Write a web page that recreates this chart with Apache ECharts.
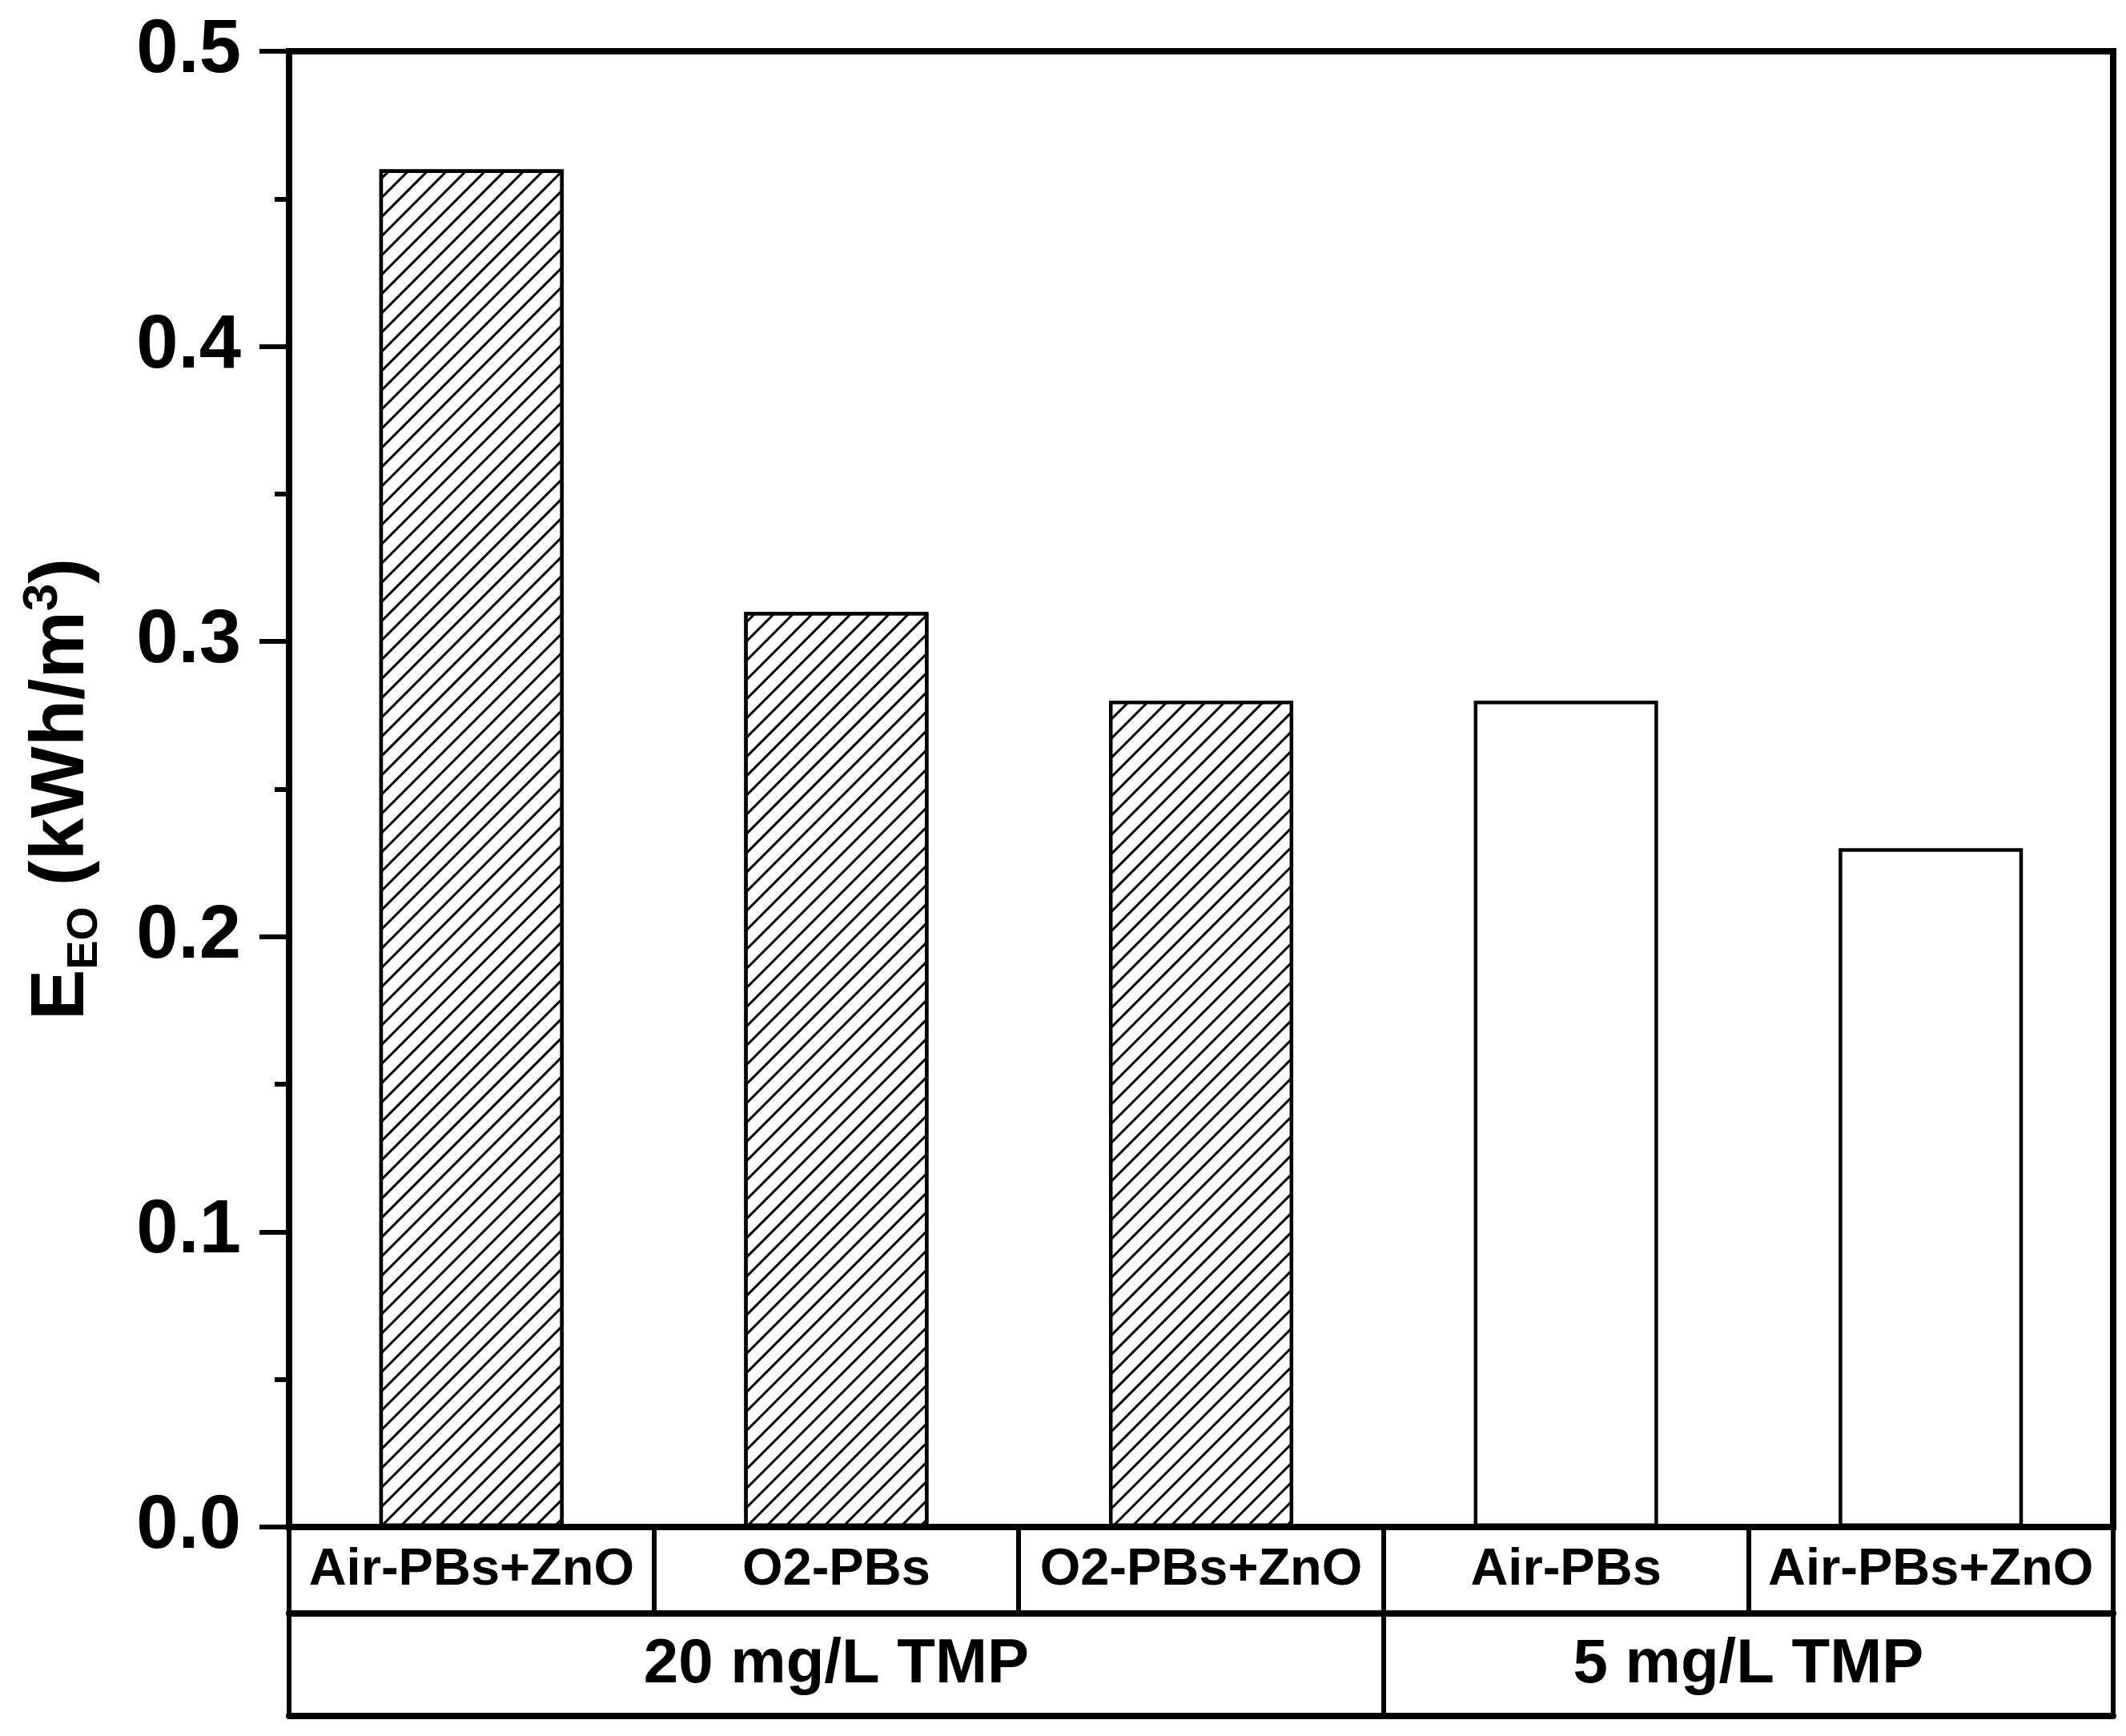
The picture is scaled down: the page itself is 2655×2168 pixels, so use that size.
<!DOCTYPE html>
<html>
<head>
<meta charset="utf-8">
<script src="https://cdn.jsdelivr.net/npm/echarts@6/dist/echarts.min.js"></script>
<style>
html,body{margin:0;padding:0;background:#fff;}
#chart{width:2655px;height:2168px;}
</style>
</head>
<body>
<div id="chart"></div>
<script>
// ---- data ----
const categories = ['Air-PBs+ZnO', 'O2-PBs', 'O2-PBs+ZnO', 'Air-PBs', 'Air-PBs+ZnO'];
const values = [0.46, 0.31, 0.28, 0.28, 0.23];
const groupLabels = ['20 mg/L TMP', '5 mg/L TMP'];
const groupSizes = [3, 2];
const yTicks = [0.0, 0.1, 0.2, 0.3, 0.4, 0.5];

// ---- derived ----
const bounds = [0];
groupSizes.forEach(s => bounds.push(bounds[bounds.length - 1] + s));
const centers = groupSizes.map((s, i) => bounds[i] + s / 2);
const groupOf = [];
groupSizes.forEach((s, gi) => { for (let k = 0; k < s; k++) groupOf.push(gi); });

const FONT = '"Liberation Sans", Arial, sans-serif';
const hatch = {
  symbol: 'rect', symbolSize: 1, color: '#000', backgroundColor: '#fff',
  dashArrayX: [1, 0], dashArrayY: [3, 14], rotation: -Math.PI / 4
};

const barData = values.map((v, i) => ({
  value: v,
  itemStyle: groupOf[i] === 0
    ? { color: '#fff', borderColor: '#000', borderWidth: 4.5, decal: hatch }
    : { color: '#fff', borderColor: '#000', borderWidth: 4.5 }
}));

const chart = echarts.init(document.getElementById('chart'), null, { renderer: 'canvas' });
chart.setOption({
  animation: false,
  backgroundColor: '#fff',
  grid: { left: 361, right: 16, top: 64, bottom: 261, show: true, borderColor: '#000', borderWidth: 8, backgroundColor: 'transparent' },
  xAxis: [
    {
      type: 'category', data: categories, position: 'bottom',
      axisLine: { lineStyle: { color: '#000', width: 8 } },
      axisTick: { show: true, interval: 0, length: 108, lineStyle: { color: '#000', width: 6 } },
      axisLabel: { interval: 0, margin: 22, color: '#000', fontFamily: FONT, fontWeight: 'bold', fontSize: 65 },
      splitLine: { show: false }
    },
    {
      type: 'value', min: 0, max: bounds[bounds.length - 1], position: 'bottom', offset: 108,
      axisLine: { show: true, onZero: false, lineStyle: { color: '#000', width: 8 } },
      axisTick: { show: true, customValues: bounds, length: 128, lineStyle: { color: '#000', width: 6 } },
      axisLabel: {
        customValues: centers, margin: 25, color: '#000', fontFamily: FONT, fontWeight: 'bold', fontSize: 78,
        formatter: v => { const i = centers.findIndex(c => Math.abs(c - v) < 1e-6); return i >= 0 ? groupLabels[i] : ''; }
      },
      splitLine: { show: false }
    },
    {
      type: 'value', min: 0, max: bounds[bounds.length - 1], position: 'bottom', offset: 236,
      axisLine: { show: true, onZero: false, lineStyle: { color: '#000', width: 8 } },
      axisTick: { show: false }, axisLabel: { show: false }, splitLine: { show: false }
    }
  ],
  yAxis: {
    type: 'value', min: yTicks[0], max: yTicks[yTicks.length - 1], interval: 0.1,
    axisLine: { show: true, lineStyle: { color: '#000', width: 8 } },
    axisTick: { show: true, length: 37, lineStyle: { color: '#000', width: 6 } },
    minorTick: { show: true, splitNumber: 2, length: 18, lineStyle: { color: '#000', width: 6 } },
    splitLine: { show: false },
    axisLabel: { margin: 60, color: '#000', fontFamily: FONT, fontWeight: 'bold', fontSize: 94, formatter: v => v.toFixed(1) },
    name: '{m|E}{sub|EO}{m| (kWh/m}{sup|3}{m|)}',
    nameLocation: 'middle', nameGap: 228,
    nameTextStyle: {
      color: '#000', fontFamily: FONT, fontWeight: 'bold', fontSize: 95,
      rich: {
        m: { fontFamily: FONT, fontWeight: 'bold', fontSize: 95, lineHeight: 110, color: '#000' },
        sub: { fontFamily: FONT, fontWeight: 'bold', fontSize: 54, lineHeight: 54, verticalAlign: 'bottom', color: '#000' },
        sup: { fontFamily: FONT, fontWeight: 'bold', fontSize: 62, lineHeight: 62, verticalAlign: 'top', color: '#000' }
      }
    }
  },
  series: [{
    type: 'bar', xAxisIndex: 0, data: barData, barWidth: '50.5%'
  }]
});
</script>
</body>
</html>
